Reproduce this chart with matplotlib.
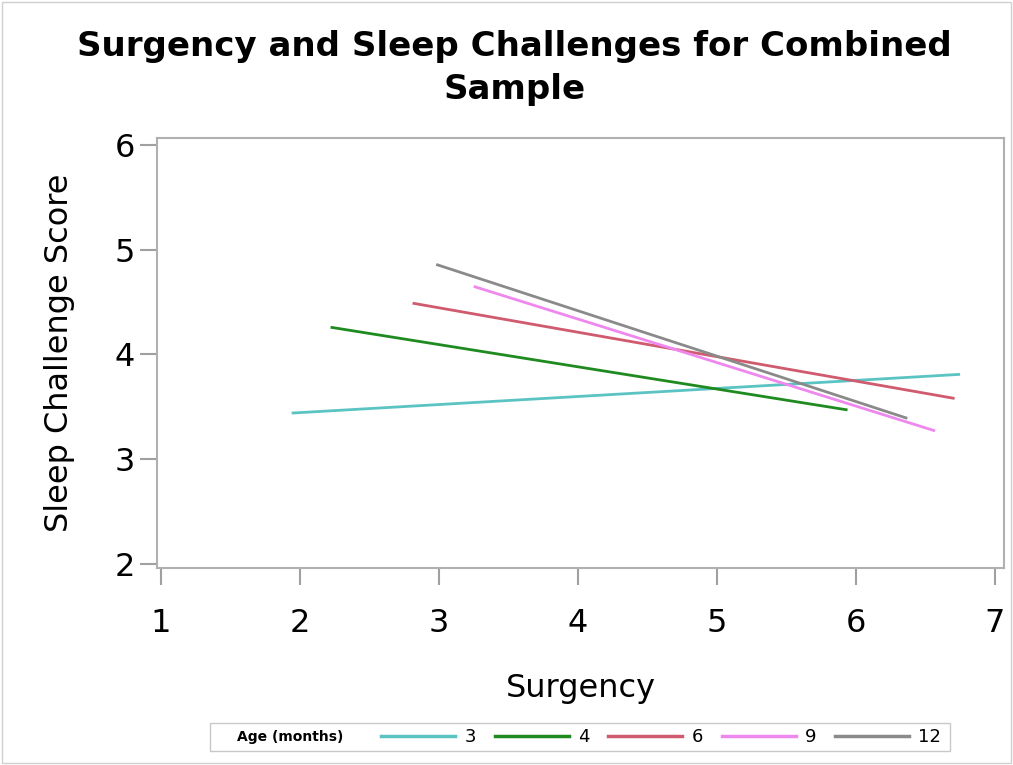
import matplotlib.pyplot as plt
from matplotlib.lines import Line2D
from matplotlib.patches import Rectangle

# age groups (months) and fitted line end points
ages = ['3', '4', '6', '9', '12']
x_start = [1.94, 2.22, 2.81, 3.25, 2.98]
x_end = [6.75, 5.94, 6.71, 6.57, 6.37]
y_start = [3.44, 4.26, 4.49, 4.65, 4.86]
y_end = [3.81, 3.47, 3.58, 3.27, 3.39]
colors = ['#5cc3c3', '#1f8a1f', '#d05a6e', '#ee88ee', '#8a8a8a']

x_ticks = [1, 2, 3, 4, 5, 6, 7]
y_ticks = [2, 3, 4, 5, 6]

fig = plt.figure(figsize=(10.13, 7.65), dpi=100)
ax = fig.add_axes([0.155, 0.2575, 0.836, 0.562])

for i, age in enumerate(ages):
    ax.plot([x_start[i], x_end[i]], [y_start[i], y_end[i]],
            color=colors[i], lw=2, solid_capstyle='butt', label=age)

ax.set_xlim(0.971, 7.065)
ax.set_ylim(1.96, 6.067)
ax.set_xticks(x_ticks)
ax.set_yticks(y_ticks)
for s in ax.spines.values():
    s.set_color('#b0b0b0')
    s.set_linewidth(1.5)
ax.tick_params(colors='#a0a0a0', labelcolor='black', labelsize=23,
               length=12, width=1.5)
ax.tick_params(axis='x', pad=17)
ax.tick_params(axis='y', pad=4)

ax.set_xlabel('Surgency', fontsize=23, labelpad=24)
ax.set_ylabel('Sleep Challenge Score', fontsize=23, labelpad=28)

fig.suptitle('Surgency and Sleep Challenges for Combined\nSample',
             fontsize=24.5, fontweight='bold', x=0.508, y=1 - 68 / 765,
             va='center', linespacing=1.35)

# legend box at the bottom
fig.patches.append(Rectangle((210 / 1013, 1 - 751 / 765), 740 / 1013, 28 / 765,
                             transform=fig.transFigure, fill=False,
                             edgecolor='#c8c8c8', lw=1))
fig.text(290 / 1013, 1 - 737 / 765, 'Age (months)', fontsize=10,
         fontweight='bold', ha='center', va='center')
handles = [Line2D([], [], color=c, lw=2.5) for c in colors]
fig.legend(handles, ages, loc='center left', ncol=5, frameon=False,
           bbox_to_anchor=(365 / 1013, 1 - 737 / 765), fontsize=13,
           handlelength=4.1, handletextpad=0.5, columnspacing=1.05)

# light border around the picture
fig.patches.append(Rectangle((0.002, 0.002), 0.996, 0.995, transform=fig.transFigure,
                             fill=False, edgecolor='#d0d0d0', lw=1))

fig.savefig('out.png', dpi=100)
